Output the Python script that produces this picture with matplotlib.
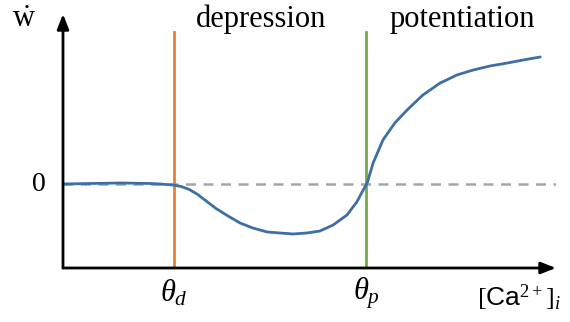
import matplotlib.pyplot as plt
import numpy as np

plt.rcParams['font.family'] = ['Liberation Serif', 'DejaVu Serif']
plt.rcParams['mathtext.fontset'] = 'custom'
plt.rcParams['mathtext.rm'] = 'Liberation Serif'
plt.rcParams['mathtext.it'] = 'Liberation Serif:italic'
plt.rcParams['mathtext.sf'] = 'Liberation Sans'

# Plasticity rule: weight change vs. calcium concentration (normalised units)
ca = [0.0, 0.055, 0.116, 0.177, 0.197, 0.223, 0.240, 0.256, 0.272, 0.290,
      0.310, 0.333, 0.359, 0.385, 0.414, 0.440, 0.467, 0.495, 0.521, 0.548,
      0.576, 0.596, 0.609, 0.617, 0.629, 0.649, 0.673, 0.698, 0.730, 0.765,
      0.799, 0.832, 0.866, 0.901, 0.933, 0.968]
dw = [0.0, 0.006, 0.012, 0.006, 0.0, -0.012, -0.03, -0.065, -0.12, -0.20,
      -0.29, -0.375, -0.464, -0.524, -0.571, -0.583, -0.595, -0.583, -0.560, -0.488,
      -0.369, -0.214, -0.071, 0.012, 0.250, 0.524, 0.726, 0.881, 1.060, 1.202,
      1.298, 1.357, 1.405, 1.440, 1.476, 1.512]

theta_d = 0.225
theta_p = 0.615

blue = '#3e6fa4'
orange = '#ed7d31'
green = '#70ad47'
grey = '#a5a5a5'

fig = plt.figure(figsize=(5.7, 3.22), dpi=100)
ax = fig.add_axes([63 / 570, 54 / 322, 493 / 570, 254 / 322])
ax.set_xlim(0, 1)
ax.set_ylim(-1.0, 2.024)
ax.axis('off')

ax.axhline(0, color=grey, lw=1.8, ls=(0, (4, 3)), zorder=1)
ax.plot([theta_d, theta_d], [-1.0, 1.81], color=orange, lw=2, zorder=2)
ax.plot([theta_p, theta_p], [-1.0, 1.81], color=green, lw=2, zorder=2)
ax.plot(ca, dw, color=blue, lw=2, zorder=3, solid_capstyle='round',
        solid_joinstyle='round')

# axes drawn as arrows
arrow = dict(arrowstyle='-|>,head_length=0.9,head_width=0.35', color='black', lw=2,
             shrinkA=0, shrinkB=0)
ax.annotate('', xy=(1.0, -1.0), xytext=(0, -1.0), arrowprops=arrow, annotation_clip=False)
ax.annotate('', xy=(0, 2.024), xytext=(0, -1.0), arrowprops=arrow, annotation_clip=False)

ax.text(0.402, 1.96, 'depression', fontsize=22, ha='center', va='center')
ax.text(0.81, 1.96, 'potentiation', fontsize=22, ha='center', va='center')
ax.text(-0.079, 1.96, r'$\dot{\mathrm{w}}$', fontsize=22, ha='center', va='center')
ax.text(-0.035, 0.0, '0', fontsize=20, ha='right', va='center')
ax.text(theta_d, -1.3, r'$\theta_d$', fontsize=22, ha='center', va='center')
ax.text(theta_p, -1.3, r'$\theta_p$', fontsize=22, ha='center', va='center')
ax.text(0.925, -1.35, r'$[\mathsf{Ca}^{2+}]_i$', fontsize=19, ha='center', va='center')

fig.savefig('out.png', dpi=100)
